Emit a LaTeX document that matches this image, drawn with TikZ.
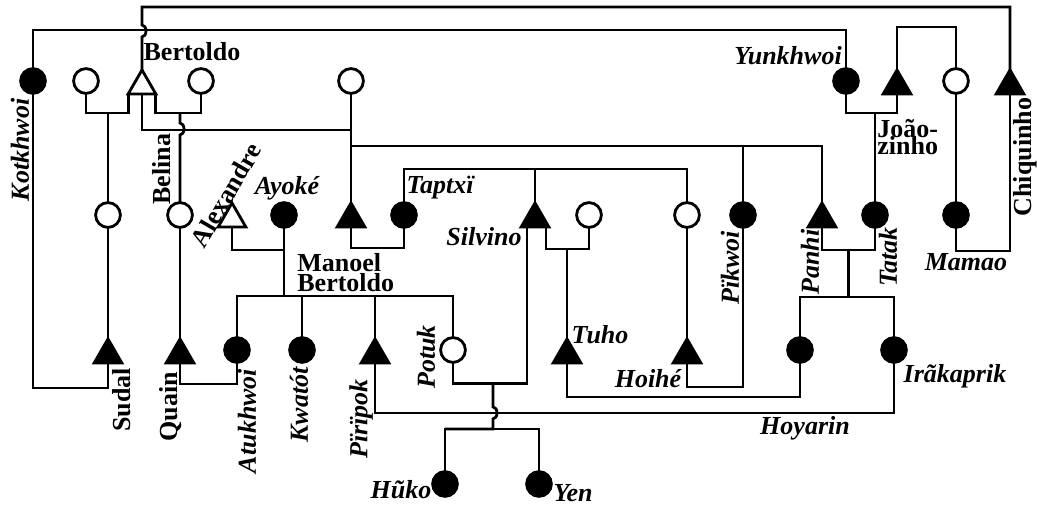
\documentclass[tikz,border=0pt]{standalone}
\usepackage{fontspec}
\setmainfont{Liberation Serif}
\usetikzlibrary{shapes.geometric,calc}
\newcommand{\tightlines}{\lineskiplimit=-20pt\relax}
\tikzset{
  fem/.style={circle,draw,line width=1.4pt,fill=white,minimum size=12.4pt,inner sep=0pt,outer sep=0pt},
  femd/.style={fem,fill=black},
  mal/.style={regular polygon,regular polygon sides=3,draw,line width=1.4pt,fill=white,
    minimum size=16pt,inner sep=0pt,outer sep=0pt},
  mald/.style={mal,fill=black},
  kin/.style={line width=1.4pt},
  nm/.style={font=\fontsize{13}{13}\selectfont\bfseries,inner sep=0pt},
  nmi/.style={nm,font=\fontsize{13}{13}\selectfont\bfseries\itshape},
}
\begin{document}
\begin{tikzpicture}[x=0.5pt,y=-0.5pt]
  \useasboundingbox (0,0) rectangle (1037,506);
  % first generation
  \node[femd] (kot) at (33,81) {};
  \node[fem] (w1) at (86,81) {};
  \node[mal] (bert) at (142,86) {};
  \node[fem] (w2) at (201,81) {};
  \node[fem] (w3) at (351,81) {};
  \node[femd] (yun) at (846,81) {};
  \node[mald] (jm) at (897,86) {};
  \node[fem] (jw) at (956,81) {};
  \node[mald] (chiq) at (1010,86) {};
  % second generation
  \node[fem] (sudm) at (108,215) {};
  \node[fem] (belina) at (180,215) {};
  \node[mal] (alex) at (232,219) {};
  \node[femd] (ayoke) at (284,215) {};
  \node[mald] (m1) at (351,219) {};
  \node[femd] (taptxi) at (404,215) {};
  \node[mald] (silvino) at (535,219) {};
  \node[fem] (w4) at (589,215) {};
  \node[fem] (w5) at (687,215) {};
  \node[femd] (pikwoi) at (743,215) {};
  \node[mald] (panhi) at (822,219) {};
  \node[femd] (tatak) at (875,215) {};
  \node[femd] (mamao) at (956,215) {};
  % third generation
  \node[mald] (sudal) at (108,355) {};
  \node[mald] (quain) at (180,355) {};
  \node[femd] (atukh) at (237,350) {};
  \node[femd] (kwatot) at (302,350) {};
  \node[mald] (piripok) at (375,355) {};
  \node[fem] (potuk) at (453,350) {};
  \node[mald] (tuho) at (567,355) {};
  \node[mald] (hoihe) at (687,355) {};
  \node[femd] (w6) at (800,350) {};
  \node[femd] (irakap) at (894,350) {};
  \node[femd] (huko) at (445,484) {};
  \node[femd] (yen) at (539,484) {};

  % lines
  \draw[kin] (kot.north) -- ++(0,-38.6) -| (yun.north);
  \draw[kin] (bert.corner 1) -- ++(0,-33) arc[start angle=90,end angle=-90,x radius=4,y radius=6]
    -- ++(0,-18) -| (chiq.corner 1);
  \draw[kin] (w1.south) -- ++(0,19.6) coordinate (mw1) -| (bert.corner 2);
  \draw[kin] (sudm.north) -- (sudm.north |- mw1);
  \draw[kin] (w2.south) -- ++(0,19.6) coordinate (mw2) -| (bert.corner 3);
  \draw[kin] (belina.north |- mw2) -- ++(0,10) arc[start angle=-90,end angle=90,x radius=4,y radius=6]
    -- (belina.north);
  \draw[kin] (w3.south) -- (m1.corner 1);
  \draw[kin] (bert.side 2) -- ++(0,36) -| (m1.corner 1);
  \draw[kin] (panhi.corner 1) -- ++(0,-57) coordinate (sib1) -- (sib1 -| w3.south);
  \draw[kin] (pikwoi.north) -- (pikwoi.north |- sib1);
  \draw[kin] (m1.side 2) -- ++(0,21) -| (taptxi.south);
  \draw[kin] (taptxi.north) -- ++(0,-33.6) coordinate (sib2) -| (w5.north);
  \draw[kin] (silvino.corner 1) -- (silvino.corner 1 |- sib2);
  \draw[kin] (alex.side 2) -- ++(0,23) -| (ayoke.south);
  \draw[kin] (ayoke.south) -- ++(0,68.6) coordinate (sib3);
  \draw[kin] (atukh.north) -- (atukh.north |- sib3) -| (potuk.north);
  \draw[kin] (kwatot.north) -- (kwatot.north |- sib3);
  \draw[kin] (piripok.corner 1) -- (piripok.corner 1 |- sib3);
  \draw[kin] (sudm.south) -- (sudal.corner 1);
  \draw[kin] (belina.south) -- (quain.corner 1);
  \draw[kin] (sudal.side 2) -- ++(0,25) -| (kot.south);
  \draw[kin] (quain.side 2) -- ++(0,21) -| (atukh.south);
  \draw[kin] (piripok.side 2) -- ++(0,50) -| (irakap.south);
  \draw[kin] (potuk.south) -- ++(0,21) coordinate (mpot) -| ($(silvino.side 2)+(-8,0)$);
  \draw[kin] (huko.north) -- ++(0,-42.6) coordinate (sib4) -| (yen.north);
  \draw[kin] ($(mpot)+(40,0)$) -- ++(0,23.5) arc[start angle=-90,end angle=90,x radius=4,y radius=6]
    |- (sib4);
  \draw[kin] ($(silvino.side 2)+(11,0)$) -- ++(0,22) coordinate (msil) -| (w4.south);
  \draw[kin] (tuho.corner 1) -- (tuho.corner 1 |- msil);
  \draw[kin] (tuho.side 2) -- ++(0,34) -| (w6.south);
  \draw[kin] (w5.south) -- (hoihe.corner 1);
  \draw[kin] (hoihe.side 2) -- ++(0,24) -| (pikwoi.south);
  \draw[kin] (panhi.side 2) -- ++(0,23) coordinate (mpan) -| (tatak.south);
  \draw[kin] (w6.north) -- ++(0,-40.6) coordinate (sib5) -| (irakap.north);
  \draw[kin] ($(mpan)!.5!(mpan -| tatak.south)$) |- (sib5);
  \draw[kin] (yun.south) -- ++(0,19.6) coordinate (myun) -| (jm.side 2);
  \draw[kin] (tatak.north) -- (tatak.north |- myun);
  \draw[kin] (jm.corner 1) -- ++(0,-43) -| (jw.north);
  \draw[kin] (jw.south) -- (mamao.north);
  \draw[kin] (mamao.south) -- ++(0,23.6) -| (chiq.side 2);

  % names
  \node[nm] (lbert) at (192,52) {Bertoldo};
  \node[nmi,rotate=90] (lkot) at (20,150) {Kotkhwoi};
  \node[nm,rotate=90] (lbel) at (162,169) {Belina};
  \node[nm,rotate=60] (lalex) at (226,195) {Alexandre};
  \node[nmi] (layo) at (287,188) {Ayoké};
  \node[nmi] (ltap) at (440,188) {Taptxï};
  \node[nmi] (lsil) at (484,237) {Silvino};
  \node[nm,align=left,anchor=north west,font=\fontsize{13}{10}\selectfont\bfseries] (lman) at (297,253) {Manoel\\Bertoldo};
  \node[nm,align=left,anchor=north west,font=\fontsize{13}{8.5}\selectfont\bfseries\tightlines] (ljoa) at (877,119) {João-\\zinho};
  \node[nmi] (lyun) at (788,56) {Yunkhwoi};
  \node[nm,rotate=90] (lchi) at (1025,157) {Chiquinho};
  \node[nmi] (lmam) at (966,262) {Mamao};
  \node[nmi,rotate=90] (ltat) at (888,257) {Tatak};
  \node[nmi,rotate=90] (lpan) at (810,262) {Panhi};
  \node[nmi,rotate=90] (lpik) at (730,268) {Pïkwoi};
  \node[nmi] (ltuh) at (600,335) {Tuho};
  \node[nmi] (lhoi) at (648,379) {Hoihé};
  \node[nmi] (lira) at (955,376) {Irãkaprik};
  \node[nmi] (lhoy) at (805,428) {Hoyarin};
  \node[nmi,rotate=90] (lpot) at (426,357) {Potuk};
  \node[nmi,rotate=90] (lpir) at (361,419) {Pïrïpok};
  \node[nmi] (lhuk) at (401,490) {Hũko};
  \node[nmi] (lyen) at (573,493) {Yen};
  \node[nm,rotate=90] (lsud) at (122,400) {Sudal};
  \node[nm,rotate=90] (lqua) at (171,407) {Quain};
  \node[nmi,rotate=90] (latu) at (247,421) {Atukhwoi};
  \node[nmi,rotate=90] (lkwa) at (299,405) {Kwatót};
\end{tikzpicture}
\end{document}
